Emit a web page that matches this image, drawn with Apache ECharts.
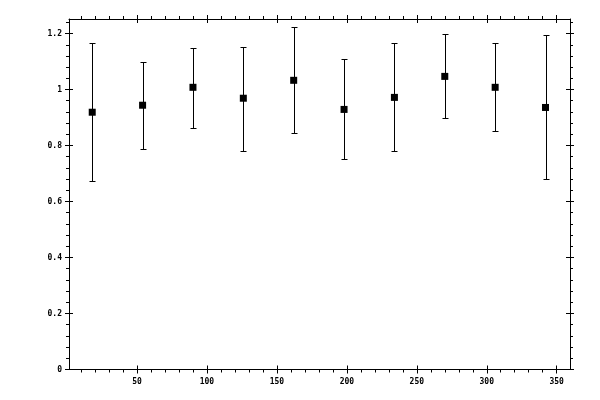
<!DOCTYPE html>
<html>
<head>
<meta charset="utf-8">
<script src="https://cdn.jsdelivr.net/npm/echarts@6/dist/echarts.min.js"></script>
<style>html,body{margin:0;padding:0;background:#fff}#c{width:600px;height:400px}</style>
</head>
<body>
<div id="c"></div>
<script>
var xs = [18, 54, 90, 126, 162, 198, 234, 270, 306, 342];
var ys = [0.919, 0.944, 1.008, 0.969, 1.033, 0.929, 0.972, 1.047, 1.008, 0.936];
var hi = [1.165, 1.097, 1.149, 1.153, 1.222, 1.108, 1.165, 1.197, 1.165, 1.195];
var lo = [0.672, 0.786, 0.861, 0.779, 0.844, 0.751, 0.779, 0.897, 0.851, 0.679];
var xMajor = [50, 100, 150, 200, 250, 300, 350];
var xMinor = [10, 20, 30, 40, 60, 70, 80, 90, 110, 120, 130, 140, 160, 170, 180, 190, 210, 220, 230, 240, 260, 270, 280, 290, 310, 320, 330, 340];
var yMajor = [0, 0.2, 0.4, 0.6, 0.8, 1, 1.2];
var yMinor = [0.04, 0.08, 0.12, 0.16, 0.24, 0.28, 0.32, 0.36, 0.44, 0.48, 0.52, 0.56, 0.64, 0.68, 0.72, 0.76, 0.84, 0.88, 0.92, 0.96, 1.04, 1.08, 1.12, 1.16, 1.24];
var xMin = 1.4, xMax = 359.5, yMin = 0, yMax = 1.252;

var black = '#000';
function ax(kind, pos, opts) {
  return {
    type: 'value', position: pos, min: kind === 'x' ? xMin : yMin, max: kind === 'x' ? xMax : yMax,
    splitLine: {show: false},
    axisLine: {show: !!opts.line, onZero: false, lineStyle: {color: black, width: 1}},
    axisTick: {show: true, inside: !!opts.inside, length: opts.len, customValues: opts.ticks, lineStyle: {color: black, width: 1}},
    axisLabel: {show: !!opts.labels, customValues: opts.ticks, margin: kind === 'x' ? 8 : 7,
      fontFamily: 'DejaVu Sans Mono', fontSize: 8, fontWeight: 'bold', color: black,
      formatter: function (v) { return String(Math.round(v * 100) / 100); }}
  };
}
var xAxes = [
  ax('x', 'bottom', {line: true, labels: true, len: 4, ticks: xMajor}),
  ax('x', 'bottom', {len: 3, ticks: xMinor}),
  ax('x', 'bottom', {len: 4, inside: true, ticks: xMajor}),
  ax('x', 'top', {line: true, len: 4, ticks: xMajor}),
  ax('x', 'top', {len: 3, ticks: xMinor}),
  ax('x', 'top', {len: 4, inside: true, ticks: xMajor})
];
var yAxes = [
  ax('y', 'left', {line: true, labels: true, len: 4, ticks: yMajor}),
  ax('y', 'left', {len: 3, ticks: yMinor}),
  ax('y', 'left', {len: 4, inside: true, ticks: yMajor}),
  ax('y', 'right', {line: true, len: 4, ticks: yMajor}),
  ax('y', 'right', {len: 3, ticks: yMinor}),
  ax('y', 'right', {len: 4, inside: true, ticks: yMajor})
];

var errData = xs.map(function (x, i) { return [x, lo[i], hi[i]]; });
var ptData = xs.map(function (x, i) { return [x, ys[i]]; });

var chart = echarts.init(document.getElementById('c'), null, {renderer: 'canvas'});
chart.setOption({
  animation: false,
  backgroundColor: '#fff',
  grid: {left: 69, right: 30, top: 19, bottom: 30.5, containLabel: false},
  xAxis: xAxes,
  yAxis: yAxes,
  series: [
    {
      type: 'custom', xAxisIndex: 0, yAxisIndex: 0, data: errData,
      renderItem: function (params, api) {
        var x = api.value(0);
        var pLo = api.coord([x, api.value(1)]);
        var pHi = api.coord([x, api.value(2)]);
        var cx = Math.round(pLo[0]) + 0.5;
        var yl = Math.round(pLo[1]) + 0.5, yh = Math.round(pHi[1]) + 0.5;
        var w = 3;
        var st = {stroke: black, lineWidth: 1};
        return {type: 'group', children: [
          {type: 'line', shape: {x1: cx, y1: yl, x2: cx, y2: yh}, style: st},
          {type: 'line', shape: {x1: cx - w, y1: yl, x2: cx + w, y2: yl}, style: st},
          {type: 'line', shape: {x1: cx - w, y1: yh, x2: cx + w, y2: yh}, style: st}
        ]};
      }
    },
    {
      type: 'scatter', xAxisIndex: 0, yAxisIndex: 0, data: ptData,
      symbol: 'rect', symbolSize: 7, itemStyle: {color: black, opacity: 1}, z: 5
    }
  ]
});
</script>
</body>
</html>
